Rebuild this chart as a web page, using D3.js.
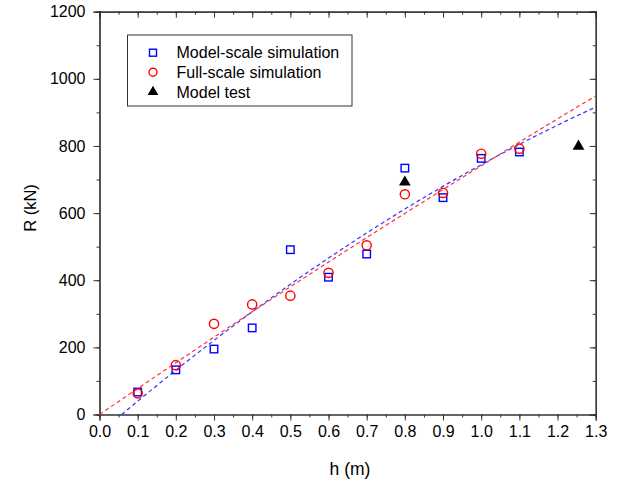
<!DOCTYPE html>
<html><head><meta charset="utf-8">
<script src="https://cdn.jsdelivr.net/npm/d3@7"></script>
<style>body{margin:0;background:#fff}svg{display:block}text{font-family:"Liberation Sans",Arial,sans-serif;fill:#000}</style>
</head><body><svg id="c" width="620" height="481"></svg>
<script>
const hVals = [0.1,0.2,0.3,0.4,0.5,0.6,0.7,0.8,0.9,1.0,1.1];
const modelScale = [67,133,195,258,491,409,478,734,646,763,782];
const fullScale = [63,147,270,328,354,422,504,656,660,777,792];
const testH = [0.8,1.255];
const testR = [692,799];
const fitFullH = [0,0.2,0.4,0.6,0.8,1.0,1.2,1.3];
const fitFullR = [0,154,306,454,599,741,881,949];
const fitModelH = [0.058,0.2,0.4,0.6,0.8,1.0,1.2,1.3];
const fitModelR = [0,132,306,466,612,744,862,916];
const xTicks = [0,0.1,0.2,0.3,0.4,0.5,0.6,0.7,0.8,0.9,1.0,1.1,1.2,1.3];
const yTicks = [0,200,400,600,800,1000,1200];
const legendLabels = ["Model-scale simulation","Full-scale simulation","Model test"];

const svg = d3.select("#c");
const L=99.5,R=595.7,T=11.7,B=414.5;
const x = d3.scaleLinear().domain([0,1.3]).range([L,R]);
const y = d3.scaleLinear().domain([0,1200]).range([B,T]);
const axCol="#333";

const xMinor = d3.range(0,1.3001,0.05);
const yMinor = d3.range(0,1200.1,100);

function axisG(gen, tf){ return svg.append("g").attr("transform",tf).call(gen); }
axisG(d3.axisBottom(x).tickValues(xMinor).tickSize(3).tickFormat(""),`translate(0,${B})`);
axisG(d3.axisBottom(x).tickValues(xTicks).tickSize(6).tickPadding(5).tickFormat(d3.format(".1f")),`translate(0,${B})`);
axisG(d3.axisLeft(y).tickValues(yMinor).tickSize(3).tickFormat(""),`translate(${L},0)`);
axisG(d3.axisLeft(y).tickValues(yTicks).tickSize(6).tickPadding(8).tickFormat(d3.format("d")),`translate(${L},0)`);
axisG(d3.axisTop(x).tickValues(xMinor).tickSize(-3).tickFormat(""),`translate(0,${T})`);
axisG(d3.axisTop(x).tickValues(xTicks).tickSize(-6).tickFormat(""),`translate(0,${T})`);
axisG(d3.axisRight(y).tickValues(yMinor).tickSize(-3).tickFormat(""),`translate(${R},0)`);
axisG(d3.axisRight(y).tickValues(yTicks).tickSize(-6).tickFormat(""),`translate(${R},0)`);
svg.selectAll(".domain").attr("stroke",axCol).attr("stroke-width",1.2);
svg.selectAll(".tick line").attr("stroke",axCol);
svg.selectAll(".tick text").style("font-size","16px").attr("fill","#000");

svg.append("text").attr("x",350).attr("y",475).attr("text-anchor","middle").style("font-size","17.5px").text("h (m)");
svg.append("text").attr("transform",`translate(35.5,208) rotate(-90)`).attr("text-anchor","middle").style("font-size","16.5px").text("R (kN)");

const line = d3.line().x(d=>x(d[0])).y(d=>y(d[1])).curve(d3.curveMonotoneX);
svg.append("path").datum(fitModelH.map((h,i)=>[h,fitModelR[i]])).attr("d",line)
  .attr("fill","none").attr("stroke","#3333ff").attr("stroke-width",1.2).attr("stroke-dasharray","4,3");
svg.append("path").datum(fitFullH.map((h,i)=>[h,fitFullR[i]])).attr("d",line)
  .attr("fill","none").attr("stroke","#ff3333").attr("stroke-width",1.2).attr("stroke-dasharray","4,3");

const sq=7.5;
svg.append("g").selectAll("rect").data(hVals).join("rect")
  .attr("x",(d)=>x(d)-sq/2).attr("y",(d,i)=>y(modelScale[i])-sq/2).attr("width",sq).attr("height",sq)
  .attr("fill","none").attr("stroke","#0000ff").attr("stroke-width",1.4);
svg.append("g").selectAll("circle").data(hVals).join("circle")
  .attr("cx",d=>x(d)).attr("cy",(d,i)=>y(fullScale[i])).attr("r",4.6)
  .attr("fill","none").attr("stroke","#ff0000").attr("stroke-width",1.4);
const tri = d3.symbol().type(d3.symbolTriangle).size(60);
svg.append("g").selectAll("path").data(testH).join("path")
  .attr("d",tri).attr("transform",(d,i)=>`translate(${x(d)},${y(testR[i])})`).attr("fill","#000");

const lg = svg.append("g");
lg.append("rect").attr("x",127.5).attr("y",35).attr("width",224.5).attr("height",71).attr("fill","#fff").attr("stroke","#333").attr("stroke-width",1);
const rows=[52.7,72.3,92];
lg.append("rect").attr("x",153-3.5).attr("y",rows[0]-3.5).attr("width",7).attr("height",7).attr("fill","none").attr("stroke","#0000ff").attr("stroke-width",1.4);
lg.append("circle").attr("cx",153).attr("cy",rows[1]).attr("r",4).attr("fill","none").attr("stroke","#ff0000").attr("stroke-width",1.4);
lg.append("path").attr("d",d3.symbol().type(d3.symbolTriangle).size(50)).attr("transform",`translate(153,${rows[2]})`).attr("fill","#000");
legendLabels.forEach((t,i)=>lg.append("text").attr("x",176.5).attr("y",rows[i]).attr("dy","0.35em").style("font-size","16px").text(t));
</script></body></html>
